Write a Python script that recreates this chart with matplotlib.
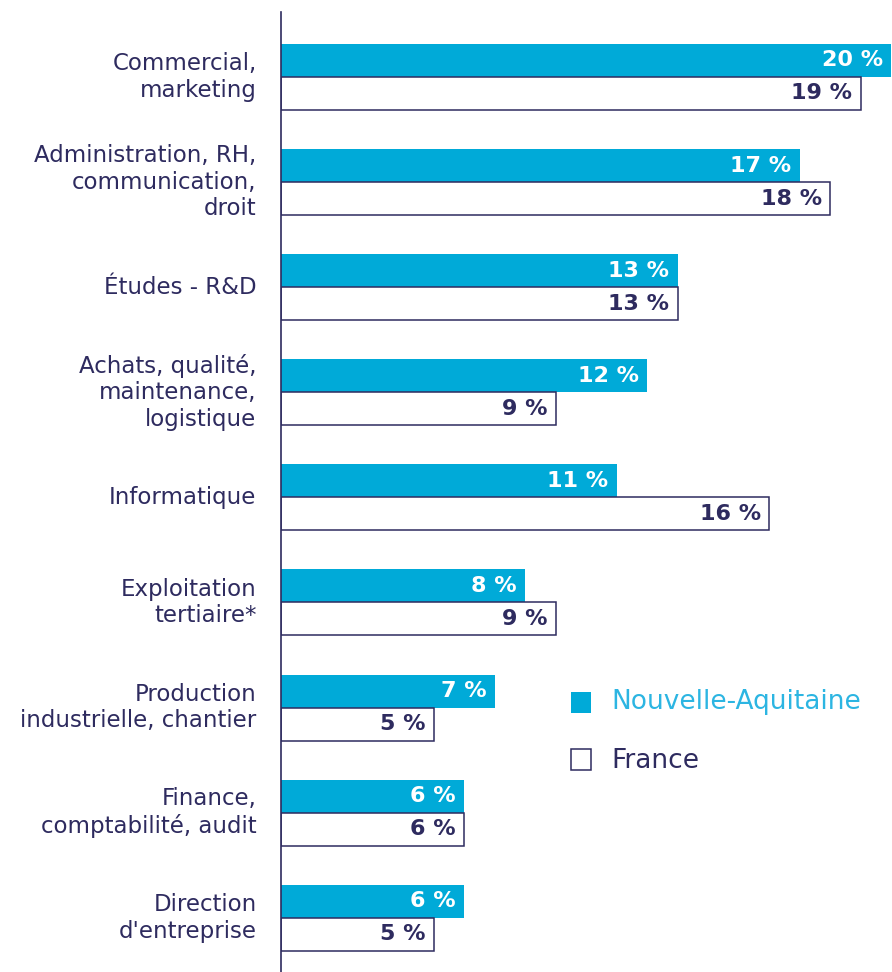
import matplotlib.pyplot as plt
from matplotlib.patches import Rectangle

categories = ["Commercial,\nmarketing",
              "Administration, RH,\ncommunication,\ndroit",
              "Études - R&D",
              "Achats, qualité,\nmaintenance,\nlogistique",
              "Informatique",
              "Exploitation\ntertiaire*",
              "Production\nindustrielle, chantier",
              "Finance,\ncomptabilité, audit",
              "Direction\nd'entreprise"]
nouvelle_aquitaine = [20, 17, 13, 12, 11, 8, 7, 6, 6]
france = [19, 18, 13, 9, 16, 9, 5, 6, 5]

cyan = "#00AAD8"
navy = "#2E2B5F"
plt.rcParams['font.family'] = ['DejaVu Sans']

W, H = 892, 972
fig = plt.figure(figsize=(W / 100, H / 100), dpi=100)
ax = fig.add_axes([281 / W, 0, 1 - 281 / W, 960 / H])

h = 0.314
ypos = list(range(len(categories)))
ax.barh([y - h / 2 for y in ypos], nouvelle_aquitaine, height=h, color=cyan, edgecolor="none")
ax.barh([y + h / 2 for y in ypos], france, height=h, color="white", edgecolor=navy, linewidth=1.1)

for y, v in zip(ypos, nouvelle_aquitaine):
    ax.text(v - 0.27, y - h / 2, f"{v} %", ha="right", va="center", color="white",
            fontsize=16, fontweight="bold")
for y, v in zip(ypos, france):
    ax.text(v - 0.27, y + h / 2, f"{v} %", ha="right", va="center", color=navy,
            fontsize=16, fontweight="bold")
for y, c in zip(ypos, categories):
    ax.text(-0.8, y, c, ha="right", va="center", color=navy, fontsize=16.5,
            linespacing=1.2, multialignment="right")

ax.set_xlim(0, 20.03)
ax.set_ylim(8.516, -0.618)
for s in ["top", "right", "bottom"]:
    ax.spines[s].set_visible(False)
ax.spines["left"].set_color(navy)
ax.spines["left"].set_linewidth(1.2)
ax.set_xticks([])
ax.set_yticks([])

# legend
fig.patches.append(Rectangle((571 / W, 1 - 713 / H), 20 / W, 21 / H, transform=fig.transFigure,
                             facecolor=cyan, edgecolor="none"))
fig.patches.append(Rectangle((571 / W, 1 - 770 / H), 20 / W, 21 / H, transform=fig.transFigure,
                             facecolor="white", edgecolor=navy, linewidth=1.1))
fig.text(611 / W, 1 - 702 / H, "Nouvelle-Aquitaine", color="#2CB5E2", fontsize=19, va="center")
fig.text(611 / W, 1 - 761 / H, "France", color=navy, fontsize=19, va="center")

fig.savefig("out.png", dpi=100)
